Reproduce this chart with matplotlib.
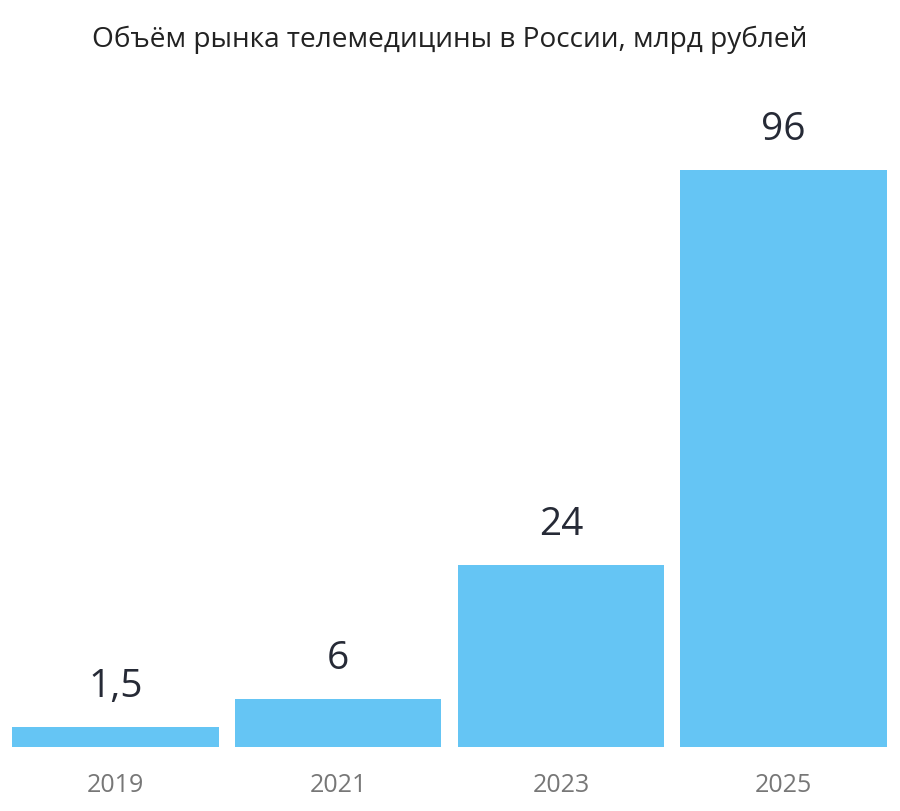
import matplotlib
matplotlib.use('Agg')
import matplotlib.pyplot as plt

# data
years = ['2019', '2021', '2023', '2025']
values = [1.5, 6, 24, 96]
value_labels = ['1,5', '6', '24', '96']
# bars in the source are not drawn to scale, heights as measured (same units as 96)
bar_heights = [3.25, 7.9, 30.2, 96]

title = 'Объём рынка телемедицины в России, млрд рублей'

plt.rcParams['font.family'] = ['Open Sans', 'DejaVu Sans']

fig = plt.figure(figsize=(9, 8.11), dpi=100)
# axes placed so that the baseline sits at ~746 px from the top
ax = fig.add_axes([4 / 900, (811 - 746.5) / 811, 891 / 900, (746.5 - 100) / 811])

x = range(len(years))
bars = ax.bar(x, bar_heights, width=0.928, color='#65c5f4', linewidth=0)

for b, lab in zip(bars, value_labels):
    ax.annotate(lab, (b.get_x() + b.get_width() / 2, b.get_height()),
                xytext=(0, 21 * 0.72), textcoords='offset points',
                ha='center', va='bottom', fontsize=28, color='#262a36')

ax.set_xlim(-0.5, 3.5)
ax.set_ylim(0, (746.5 - 100) / 6.005)
ax.set_xticks(list(x))
ax.set_xticklabels(years, fontsize=18, color='#777777')
ax.tick_params(axis='x', length=0, pad=27 * 0.72)
ax.set_yticks([])
for s in ax.spines.values():
    s.set_visible(False)

fig.text(0.5, 1 - 40 / 811, title, ha='center', va='center', fontsize=20.2, color='#222222')

fig.savefig('out.png', dpi=100, facecolor='white')
